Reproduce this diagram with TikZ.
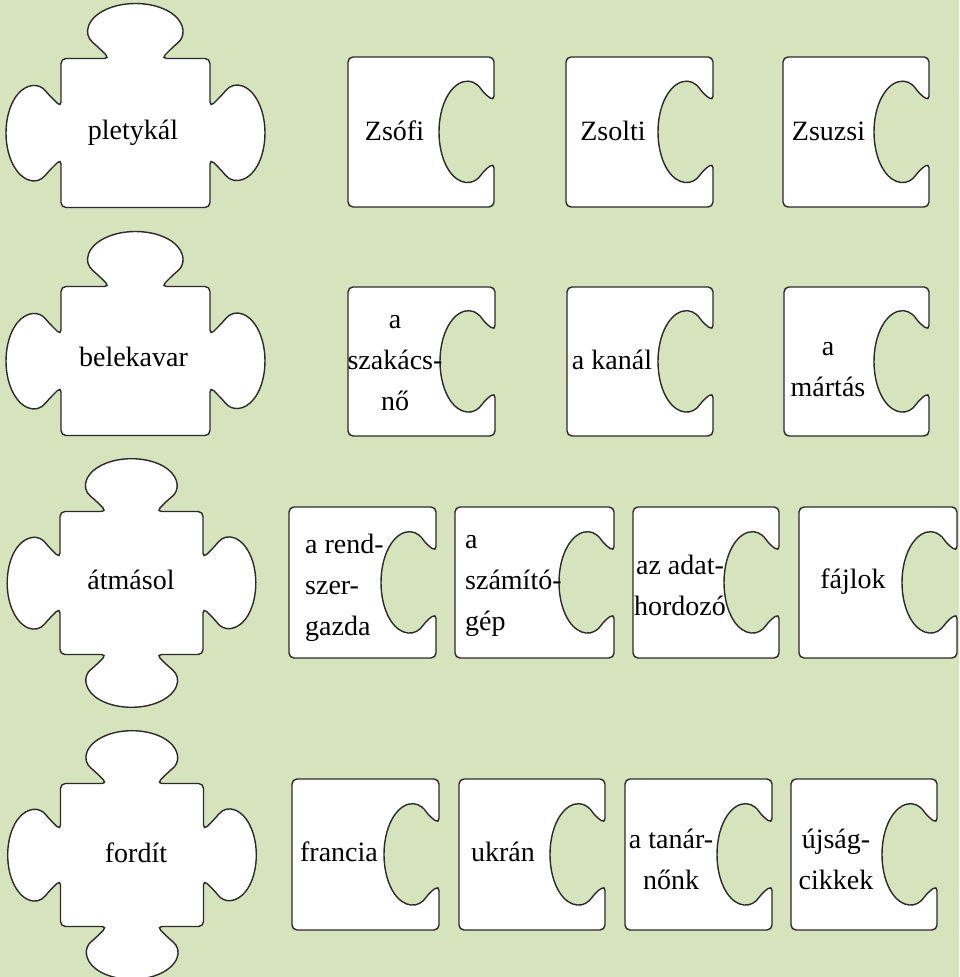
\documentclass[tikz,border=0pt]{standalone}
\usepackage{fontspec}
\setmainfont{Liberation Serif}
\definecolor{bg}{HTML}{D6E3BC}
\definecolor{edgec}{HTML}{2B2B2B}
\tikzset{
  piece/.style={draw=edgec, line width=1.4pt, fill=white, rounded corners=5pt},
  lbl/.style={inner sep=0pt, font=\rmfamily\fontsize{28}{41}\selectfont, text=black},
  pics/verbthree/.style={code={
    \draw[piece] (-74.5,74.5)
      -- (-26,74.5) -- (-38.5,87) arc[start angle=215,end angle=-35,x radius=47,y radius=27] -- (26,74.5)
      -- (74.5,74.5)
      -- (74.5,26) -- (87,38.5) arc[start angle=125,end angle=-125,x radius=27,y radius=47] -- (74.5,-26)
      -- (74.5,-74.5)
      -- (-74.5,-74.5)
      -- (-74.5,-26) -- (-87,-38.5) arc[start angle=-55,end angle=-305,x radius=27,y radius=47] -- (-74.5,26)
      -- cycle;
  }},
  pics/verbfour/.style={code={
    \draw[piece] (-74.5,74.5)
      -- (-26,74.5) -- (-38.5,87) arc[start angle=215,end angle=-35,x radius=47,y radius=27] -- (26,74.5)
      -- (74.5,74.5)
      -- (74.5,26) -- (87,38.5) arc[start angle=125,end angle=-125,x radius=27,y radius=47] -- (74.5,-26)
      -- (74.5,-74.5)
      -- (26,-74.5) -- (38.5,-87) arc[start angle=35,end angle=-215,x radius=47,y radius=27] -- (-26,-74.5)
      -- (-74.5,-74.5)
      -- (-74.5,-26) -- (-87,-38.5) arc[start angle=-55,end angle=-305,x radius=27,y radius=47] -- (-74.5,26)
      -- cycle;
  }},
  pics/nounpiece/.style 2 args={code={
    \draw[piece] (-#1,#2) -- (#1,#2) -- (#1,31)
      -- ([shift={(#1-27.5,0)}]51:27.5 and 50)
      arc[start angle=51,end angle=309,x radius=27.5,y radius=50]
      -- (#1,-31) -- (#1,-#2) -- (-#1,-#2) -- cycle;
  }},
}
\begin{document}
\begin{tikzpicture}[x=1pt,y=1pt]
\fill[bg] (0,0) rectangle (959,977);
\useasboundingbox (0,0) rectangle (959,977);

% verb pieces
\pic (v1) at (135.5,844) {verbthree};
\pic (v2) at (135.5,616) {verbthree};
\pic[scale=0.96] (v3) at (131.5,394) {verbfour};
\pic[scale=0.96] (v4) at (132,122) {verbfour};

% noun pieces row 1
\pic (n11) at (421,845) {nounpiece={73}{75}};
\pic (n12) at (639.5,845) {nounpiece={73.5}{75}};
\pic (n13) at (856,845) {nounpiece={73}{75}};
% row 2
\pic (n21) at (421.5,615.5) {nounpiece={73.5}{74.5}};
\pic (n22) at (640,615.5) {nounpiece={73}{74.5}};
\pic (n23) at (856.5,615.5) {nounpiece={72.5}{74.5}};
% row 3
\pic (n31) at (362.5,394.5) {nounpiece={73.5}{75.5}};
\pic (n32) at (534.5,394.5) {nounpiece={79.5}{75.5}};
\pic (n33) at (706,394.5) {nounpiece={73}{75.5}};
\pic (n34) at (878,394.5) {nounpiece={79}{75.5}};
% row 4
\pic (n41) at (365.5,122.5) {nounpiece={73.5}{75.5}};
\pic (n42) at (532,122.5) {nounpiece={73}{75.5}};
\pic (n43) at (698.5,122.5) {nounpiece={73.5}{75.5}};
\pic (n44) at (864,122.5) {nounpiece={73}{75.5}};

% verb labels
\node[lbl, anchor=base] (tv1) at (133,837.5) {pletykál};
\node[lbl, anchor=base] (tv2) at (133.5,610.3) {belekavar};
\node[lbl, anchor=base] (tv3) at (131,387) {átmásol};
\node[lbl, anchor=base] (tv4) at (136,114.3) {fordít};

% row 1 labels
\node[lbl, anchor=base] (t11) at (394.5,836.3) {Zsófi};
\node[lbl, anchor=base] (t12) at (613,836.3) {Zsolti};
\node[lbl, anchor=base] (t13) at (828.5,836.3) {Zsuzsi};
% row 2 labels
\node[lbl, align=center] (t21) at (395,614) {a\\szakács-\\nő};
\node[lbl, anchor=base] (t22) at (612,607.5) {a kanál};
\node[lbl, align=center] (t23) at (828,607) {a\\mártás};
% row 3 labels
\node[lbl, align=left, anchor=west] (t31) at (305,389) {a rend-\\szer-\\gazda};
\node[lbl, align=left, anchor=west] (t32) at (465,391) {a\\számító-\\gép};
\node[lbl, align=center] (t33) at (680,391.5) {az adat-\\hordozó};
\node[lbl, anchor=base] (t34) at (853,388.5) {fájlok};
% row 4 labels
\node[lbl, anchor=base] (t41) at (339,115.5) {francia};
\node[lbl, anchor=base] (t42) at (503,115.5) {ukrán};
\node[lbl, align=center] (t43) at (671,118) {a tanár-\\nőnk};
\node[lbl, align=center] (t44) at (836,118) {újság-\\cikkek};
\end{tikzpicture}
\end{document}
